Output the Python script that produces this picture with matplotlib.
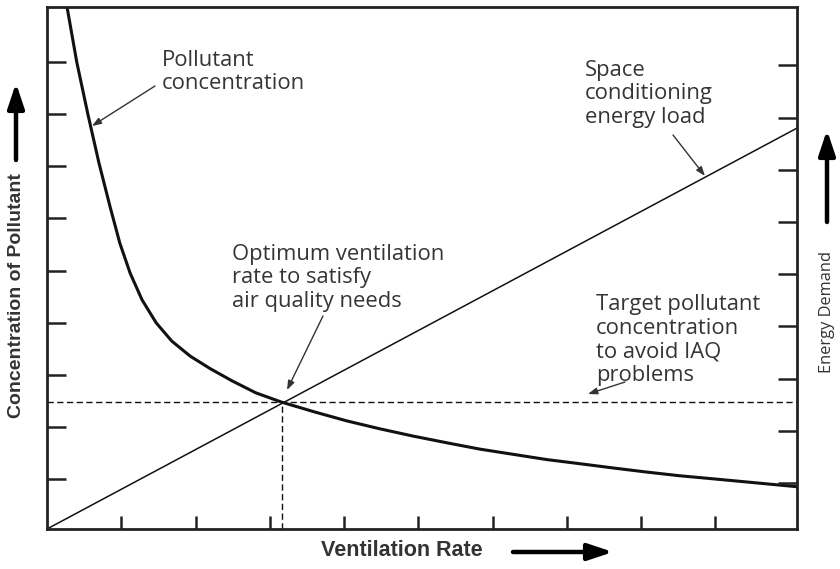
import numpy as np
import matplotlib.pyplot as plt
from matplotlib.patches import FancyArrowPatch

# pollutant concentration vs ventilation rate (arbitrary units)
vent_rate = [0.27, 0.40, 0.55, 0.70, 0.85, 0.98, 1.12, 1.28, 1.47, 1.68, 1.93,
             2.20, 2.49, 2.81, 3.16, 3.61, 4.04, 4.48, 4.93, 5.39, 5.83, 6.28,
             6.73, 7.18, 7.62, 8.08, 8.52, 8.98, 9.43, 10.1]
pollutant = [10.0, 8.95, 7.95, 7.01, 6.17, 5.48, 4.90, 4.39, 3.95, 3.60, 3.31,
             3.07, 2.84, 2.61, 2.43, 2.24, 2.07, 1.92, 1.78, 1.65, 1.53, 1.43,
             1.33, 1.25, 1.17, 1.09, 1.02, 0.96, 0.90, 0.81]

# energy load rises linearly with ventilation
energy_x = [0.0, 10.1]
energy_y = [0.0, 7.68]

# optimum point and target concentration
opt_x = 3.16
target_y = 2.43

ink = '#111111'
txt = '#353535'

fig = plt.figure(figsize=(8.4, 5.69), dpi=100)
ax = fig.add_axes([47/840, 1 - 529/569, 750/840, 522/569])
ax.set_xlim(0, 10.1)
ax.set_ylim(0, 10)

ax.plot(vent_rate, pollutant, color=ink, lw=2.2, solid_joinstyle='round')
ax.plot(energy_x, energy_y, color=ink, lw=1.1)
ax.plot([0, 10.1], [target_y, target_y], color=ink, lw=1.0, ls=(0, (4.5, 2.5)))
ax.plot([opt_x, opt_x], [0, target_y], color=ink, lw=1.0, ls=(0, (4.5, 2.5)))

for s in ax.spines.values():
    s.set_linewidth(2.0)
    s.set_color('#222222')

ax.set_xticks(np.arange(1, 10))
ax.set_yticks(np.arange(1, 10) - 0.05)
ax.tick_params(axis='x', direction='in', length=9.5, width=1.8, color='#222222',
               labelbottom=False)
ax.tick_params(axis='y', direction='in', length=13.5, width=1.8, color='#222222',
               labelleft=False)

# energy demand scale on the right
ax2 = ax.twinx()
ax2.set_ylim(0.12, 10.12)
ax2.set_yticks(np.arange(1, 10))
ax2.tick_params(axis='y', direction='in', length=14, width=1.8, color='#222222',
                labelright=False)
for s in ax2.spines.values():
    s.set_visible(False)


def px(x, y):
    return (x / 840, 1 - y / 569)


font = dict(family='Open Sans', fontsize=15.8, color=txt, linespacing=1.15,
            va='center', ha='left')
fig.text(*px(162, 72), 'Pollutant\nconcentration', **font)
fig.text(*px(585, 94), 'Space\nconditioning\nenergy load', **font)
fig.text(*px(232, 278), 'Optimum ventilation\nrate to satisfy\nair quality needs', **font)
fig.text(*px(596, 340), 'Target pollutant\nconcentration\nto avoid IAQ\nproblems', **font)

# pointer arrows from the notes to the curves
pointer = dict(arrowstyle='-|>,head_length=0.55,head_width=0.2', color='#333333',
               lw=1.0, shrinkA=0, shrinkB=0)
for start, end in [((155, 86), (92, 126)), ((673, 135), (705, 176)),
                   ((323, 316), (287, 390)), ((625, 382), (588, 394))]:
    ax.annotate('', xy=px(*end), xycoords='figure fraction',
                xytext=px(*start), textcoords='figure fraction', arrowprops=pointer)

# axis titles with direction arrows
bold = dict(family='Liberation Sans', fontweight='bold', color='#333333',
            ha='center', va='center')
fig.text(*px(17, 296), 'Concentration of Pollutant', rotation=90, fontsize=14, **bold)
fig.text(*px(402, 551), 'Ventilation Rate', fontsize=15.5, **bold)
fig.text(*px(827, 312), 'Energy Demand', rotation=90, ha='center', va='center',
         family='Open Sans', fontsize=11.8, color='#333333')

big = dict(arrowstyle='-|>,head_length=1.5,head_width=0.5', color='black',
           lw=3.2, shrinkA=0, shrinkB=0, mutation_scale=10,
           transform=fig.transFigure)
fig.add_artist(FancyArrowPatch(px(16, 160), px(16, 83), **big))
fig.add_artist(FancyArrowPatch(px(827, 222), px(827, 130), **big))
fig.add_artist(FancyArrowPatch(px(513, 552), px(613, 552), **big))

fig.savefig('out.png', dpi=100)
